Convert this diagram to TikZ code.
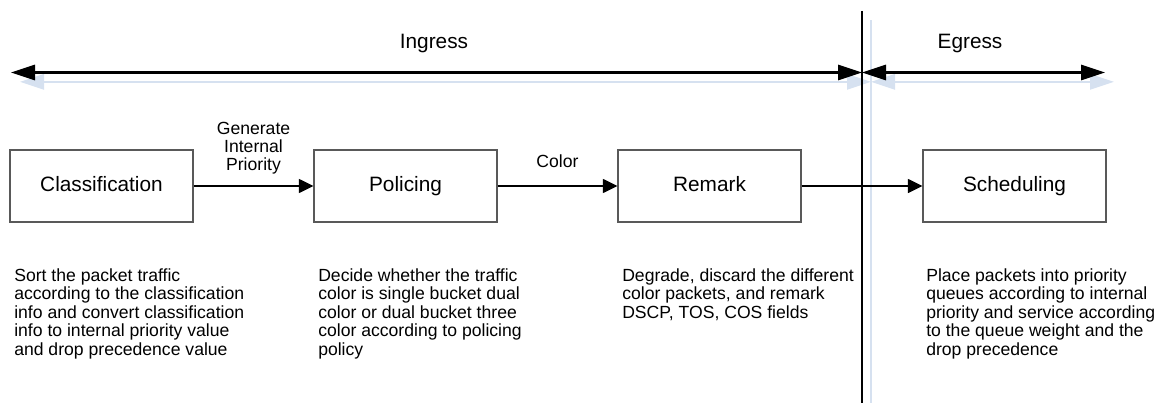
\documentclass[tikz,border=0pt]{standalone}
\usepackage{fontspec}
\setmainfont{Liberation Sans}
\usetikzlibrary{arrows.meta}
\definecolor{shade}{RGB}{214,225,240}
\tikzset{
  stage/.style={draw=black!65,line width=0.8pt,minimum width=137.25pt,minimum height=54pt,inner sep=0pt,text height=0.78em,text depth=0pt,font=\fontsize{15.6}{18}\selectfont},
  note/.style={anchor=north west,align=left,inner sep=0pt,font=\fontsize{13.2}{13.9}\selectfont},
  head/.style={font=\fontsize{15.6}{18}\selectfont},
  lab/.style={align=center,font=\fontsize{13.2}{13.5}\selectfont},
  flow/.style={line width=1.2pt,-{Triangle[length=11pt,width=10.5pt]}},
  span/.style={line width=1.6pt,{Triangle[length=18pt,width=11.5pt]}-{Triangle[length=18pt,width=11.5pt]}}
}
\begin{document}
\begin{tikzpicture}[x=0.75pt,y=-0.75pt]
    \useasboundingbox (0,0) rectangle (1164,403);
    % coordinates of the top bar and the divider
    \coordinate (inL) at (11,72.5);
    \coordinate (mid) at (862,72.5);
    \coordinate (egR) at (1105,72.5);
    \coordinate (divT) at (862,11);
    \coordinate (divB) at (862,403);
    % light shadows
    \begin{scope}[transform canvas={xshift=6.75pt,yshift=-7pt},draw=shade,color=shade]
        \draw[span] (inL) -- (mid);
        \draw[span] (mid) -- (egR);
        \draw[line width=1.6pt] (divT) -- (divB);
    \end{scope}
    \draw[span] (inL) -- (mid);
    \draw[span] (mid) -- (egR);
    \draw[line width=1.6pt] (divT) -- (divB);
    \node[head] (ingress) at (434,44) {Ingress};
    \node[head] (egress) at (970,44) {Egress};
    % stages
    \node[stage] (cls) at (101.5,186) {Classification};
    \node[stage] (pol) at (405.5,186) {Policing};
    \node[stage] (rem) at (709.5,186) {Remark};
    \node[stage] (sch) at (1014.5,186) {Scheduling};
    \draw[flow] (cls) to node[lab,above=5pt] {Generate\\Internal\\Priority} (pol);
    \draw[flow] (pol) to node[lab,above=10pt] {Color} (rem);
    \draw[flow] (rem) to (sch);
    % descriptions
    \node[note] (clsnote) at (14,268) {Sort the packet traffic\\according to the classification\\info and convert classification\\info to internal priority value\\and drop precedence value};
    \node[note] (polnote) at (318,268) {Decide whether the traffic\\color is single bucket dual\\color or dual bucket three\\color according to policing\\policy};
    \node[note] (remnote) at (622,268) {Degrade, discard the different\\color packets, and remark\\DSCP, TOS, COS fields};
    \node[note] (schnote) at (926,268) {Place packets into priority\\queues according to internal\\priority and service according\\to the queue weight and the\\drop precedence};
\end{tikzpicture}
\end{document}
